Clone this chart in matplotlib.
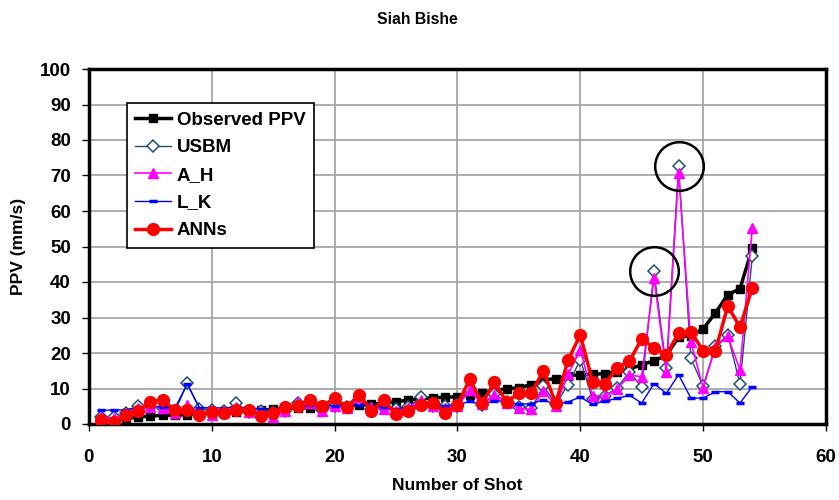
import matplotlib
matplotlib.use("Agg")
import matplotlib.pyplot as plt
import numpy as np

plt.rcParams['font.family'] = ['Liberation Sans', 'DejaVu Sans']

shots = list(range(1, 55))
observed = [1.1, 1.0, 1.6, 1.9, 2.3, 2.4, 2.5, 2.6, 2.8, 3.1, 3.2, 3.4, 3.7, 4.0, 4.1, 4.4, 4.5, 4.6,
            4.9, 5.1, 5.2, 5.3, 5.5, 6.0, 6.2, 6.8, 7.1, 7.4, 7.5, 7.7, 8.2, 8.7, 9.5, 9.9, 10.2, 11.1,
            12.4, 12.8, 13.6, 13.9, 14.0, 14.2, 14.6, 15.5, 16.7, 17.8, 19.3, 24.5, 24.8, 26.8, 31.3,
            36.4, 38.1, 49.5]
usbm = [2.1, 2.1, 3.0, 5.1, 4.9, 4.4, 3.5, 11.5, 4.2, 4.0, 3.8, 5.8, 3.5, 3.8, 3.5, 3.8, 5.8, 6.6,
        4.0, 5.1, 4.8, 6.9, 4.3, 4.5, 4.2, 4.8, 7.5, 5.0, 5.0, 5.2, 9.7, 5.3, 8.4, 6.2, 4.7, 4.4,
        10.7, 5.6, 11.0, 18.1, 7.0, 7.9, 10.2, 14.7, 10.4, 43.0, 15.8, 72.7, 18.5, 10.7, 21.9,
        25.1, 11.3, 47.2]
a_h = [2.1, 1.6, 2.8, 4.4, 4.9, 4.4, 3.2, 5.3, 3.2, 2.5, 3.5, 4.7, 3.5, 3.5, 1.9, 3.8, 6.3, 5.8,
       3.8, 5.0, 4.4, 7.5, 4.7, 4.2, 3.7, 4.6, 6.8, 5.0, 4.6, 5.0, 9.6, 5.7, 8.2, 6.0, 4.4, 4.1,
       9.4, 5.1, 14.0, 20.9, 7.9, 7.9, 9.8, 13.8, 13.3, 41.2, 14.7, 70.6, 23.1, 10.2, 21.7,
       24.7, 15.3, 55.3]
l_k = [3.9, 3.9, 4.0, 4.8, 5.0, 4.8, 4.5, 11.2, 4.6, 4.6, 4.5, 4.7, 4.4, 4.3, 3.8, 4.3, 5.0, 5.4,
       5.2, 5.2, 5.3, 5.3, 5.1, 4.7, 4.3, 4.7, 5.4, 5.2, 5.2, 5.3, 6.4, 5.3, 6.6, 6.3, 5.6, 5.7,
       6.8, 5.5, 6.2, 7.6, 5.5, 6.5, 7.2, 8.1, 5.9, 11.4, 8.6, 13.9, 7.3, 7.3, 9.1, 9.1, 5.9, 10.5]
anns = [1.1, 0.5, 2.5, 3.7, 6.2, 6.8, 3.9, 3.9, 2.6, 3.4, 3.2, 3.9, 3.9, 2.3, 3.2, 4.9, 5.1, 6.8,
        5.0, 7.3, 4.7, 8.3, 3.7, 6.7, 2.9, 3.7, 5.3, 6.0, 3.2, 5.3, 12.7, 5.8, 11.7, 6.3, 8.6, 8.6,
        15.0, 5.8, 18.0, 25.1, 11.9, 11.2, 15.8, 17.7, 24.0, 21.5, 19.5, 25.6, 25.9, 20.7, 20.6,
        33.2, 27.3, 38.3]
highlight_shots = [46, 48]

fig = plt.figure(figsize=(8.39, 5.0), dpi=100)
ax = fig.add_axes([0.106, 0.152, 0.8785, 0.71])

ax.plot(shots, observed, color='black', lw=2.5, marker='s', ms=5.5, label='Observed PPV', zorder=3)
ax.plot(shots, usbm, color='#1F4E79', lw=1.0, marker='D', ms=6, mfc='white', mec='#1F4E79',
        mew=1.1, label='USBM', zorder=4)
ax.plot(shots, a_h, color='#FF00FF', lw=1.2, marker='^', ms=6.5, label='A_H', zorder=4)
ax.plot(shots, l_k, color='#0000FF', lw=1.0, marker='_', ms=6, mew=2.5, label='L_K', zorder=4)
ax.plot(shots, anns, color='#FF0000', lw=2.5, marker='o', ms=8.5, label='ANNs', zorder=5)

hx = [shots[s - 1] for s in highlight_shots]
hy = [usbm[s - 1] for s in highlight_shots]
ax.plot(hx, hy, ls='none', marker='o', ms=35, mfc='none', mec='black', mew=1.8, zorder=6)

ax.set_xlim(0, 60)
ax.set_ylim(0, 100)
ax.set_xticks(np.arange(0, 61, 10))
ax.set_yticks(np.arange(0, 101, 10))
ax.grid(True, color='#A0A0A0', lw=1.2)
ax.set_axisbelow(True)
for sp in ax.spines.values():
    sp.set_linewidth(2.5)
    sp.set_color('black')
ax.tick_params(axis='both', labelsize=13.5, length=5, width=1)
ax.tick_params(axis='y', pad=8)
ax.tick_params(axis='x', pad=13)
for lab in ax.get_xticklabels() + ax.get_yticklabels():
    lab.set_fontweight('bold')

ax.set_xlabel('Number of Shot', fontsize=12.5, fontweight='bold', labelpad=9)
ax.set_ylabel('PPV (mm/s)', fontsize=12.5, fontweight='bold', labelpad=10)
fig.text(0.498, 0.96, 'Siah Bishe', ha='center', va='center', fontsize=11.3, fontweight='bold')

leg = ax.legend(loc='upper left', bbox_to_anchor=(0.0516, 0.904), borderaxespad=0,
                fancybox=False, framealpha=1, edgecolor='black',
                prop={'weight': 'bold', 'size': 13.5}, handlelength=1.9,
                borderpad=0.45, labelspacing=0.56, handletextpad=0.3)
leg.get_frame().set_linewidth(1.2)

fig.savefig('out.png', dpi=100)
